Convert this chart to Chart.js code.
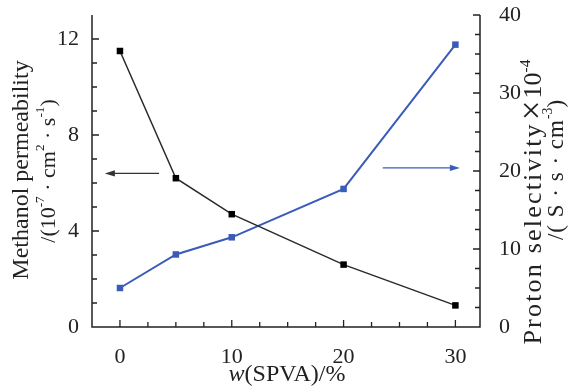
<!DOCTYPE html>
<html><head><meta charset="utf-8">
<script src="https://cdn.jsdelivr.net/npm/chart.js@4.4.0/dist/chart.umd.min.js"></script>
<style>html,body{margin:0;padding:0;background:#fff}</style>
</head><body>
<canvas id="c" width="571" height="389"></canvas>
<script>
// ---- data ----
const xValues = [0, 5, 10, 20, 30];
const permeability = [11.5, 6.2, 4.7, 2.6, 0.9];      // left axis, 10^-7 cm2 s-1
const selectivity = [5.0, 9.3, 11.5, 17.7, 36.2];     // right axis, x10^4 S s cm-3
const xTicks = [0, 10, 20, 30];
const leftTicks = [0, 4, 8, 12];
const rightTicks = [0, 10, 20, 30, 40];
// arrows [xStart, xEnd, y] in data units
const leftArrow = [3.5, -1.35, 6.4];
const rightArrow = [23.5, 30.4, 20.4];

const FONT = "'Liberation Serif', 'Times New Roman', serif";
const TXT = '#222';
const BLUE = '#3a5cb8';
const BLACK = '#2a2a2a';

function setFont(ctx, r, size) {
  const s = Math.round((r.sup ? size * 0.6 : size) * (r.scale || 1) * 10) / 10;
  ctx.font = (r.it ? 'italic ' : '') + s + 'px ' + FONT;
  ctx.letterSpacing = (r.ls || 0) + 'px';
}
function runsWidth(ctx, runs, size) {
  let w = 0;
  for (const r of runs) { setFont(ctx, r, size); w += ctx.measureText(r.t).width + (r.gap || 0) * 2; }
  return w;
}
function drawRuns(ctx, runs, size, cx, cy) {
  const w = runsWidth(ctx, runs, size);
  let x = cx - w / 2;
  ctx.textBaseline = 'middle';
  ctx.textAlign = 'left';
  for (const r of runs) {
    setFont(ctx, r, size);
    x += (r.gap || 0);
    ctx.fillText(r.t, x, r.sup ? cy - size * (r.raise || 0.38) : cy);
    x += ctx.measureText(r.t).width + (r.gap || 0);
  }
  ctx.letterSpacing = '0px';
}
function arrow(ctx, x1, x2, y, color) {
  ctx.save();
  ctx.strokeStyle = color; ctx.fillStyle = color; ctx.lineWidth = 1.3;
  const dir = Math.sign(x2 - x1);
  ctx.beginPath(); ctx.moveTo(x1, y); ctx.lineTo(x2 - dir * 8, y); ctx.stroke();
  ctx.beginPath(); ctx.moveTo(x2, y); ctx.lineTo(x2 - dir * 10, y - 3.2); ctx.lineTo(x2 - dir * 10, y + 3.2); ctx.closePath(); ctx.fill();
  ctx.restore();
}

const decor = {
  id: 'decor',
  afterDraw(chart) {
    const ctx = chart.ctx;
    const xs = chart.scales.x, yl = chart.scales.yL, yr = chart.scales.yR;
    const L = xs.left, R = xs.right, T = yl.top, B = yl.bottom;
    ctx.save();
    ctx.strokeStyle = '#222'; ctx.lineWidth = 1.5;
    ctx.beginPath();
    ctx.moveTo(L, T); ctx.lineTo(L, B); ctx.lineTo(R, B); ctx.lineTo(R, T);
    ctx.stroke();
    ctx.lineWidth = 1.3;
    ctx.beginPath();
    for (let v = 0; v <= 32; v += 2.5) {
      const p = xs.getPixelForValue(v);
      const len = (v % 10 === 0) ? 7 : 5;
      ctx.moveTo(p, B); ctx.lineTo(p, B - len);
    }
    for (let v = 1; v <= 12; v += 1) {
      const p = yl.getPixelForValue(v);
      const len = (v % 4 === 0) ? 7 : 5;
      ctx.moveTo(L, p); ctx.lineTo(L + len, p);
    }
    for (let v = 2.5; v <= 40; v += 2.5) {
      const p = yr.getPixelForValue(v);
      const len = (v % 10 === 0) ? 7 : 5;
      ctx.moveTo(R, p); ctx.lineTo(R - len, p);
    }
    ctx.stroke();

    arrow(ctx, xs.getPixelForValue(leftArrow[0]), xs.getPixelForValue(leftArrow[1]), yl.getPixelForValue(leftArrow[2]), '#333');
    arrow(ctx, xs.getPixelForValue(rightArrow[0]), xs.getPixelForValue(rightArrow[1]), yr.getPixelForValue(rightArrow[2]), BLUE);

    ctx.fillStyle = TXT;
    drawRuns(ctx, [{t: 'w', it: true}, {t: '(SPVA)/%'}], 24, 287, 375);
    ctx.save(); ctx.translate(22, 170); ctx.rotate(-Math.PI / 2);
    drawRuns(ctx, [{t: 'Methanol permeability'}], 24, 0, 0);
    ctx.restore();
    ctx.save(); ctx.translate(49, 171); ctx.rotate(-Math.PI / 2);
    drawRuns(ctx, [{t: '/(10'}, {t: '-7', sup: true}, {t: ' · cm'}, {t: '2', sup: true}, {t: ' · s'}, {t: '-1', sup: true}, {t: ')'}], 22, 0, 0);
    ctx.restore();
    ctx.save(); ctx.translate(534, 202); ctx.rotate(-Math.PI / 2);
    drawRuns(ctx, [{t: 'Proton selectivity', ls: 2.2}, {t: '×', scale: 1.35, gap: 2}, {t: '10'}, {t: '-4', sup: true, raise: 0.32}], 26, 0, 0);
    ctx.restore();
    ctx.save(); ctx.translate(557, 170); ctx.rotate(-Math.PI / 2);
    drawRuns(ctx, [{t: '/( S · s · cm', ls: 1}, {t: '-3', sup: true}, {t: ')'}], 23, 0, 0);
    ctx.restore();
    ctx.restore();
  }
};

const tickFont = {family: FONT, size: 22};
const fitY = w => s => { s.width = w; s.paddingTop = 0; s.paddingBottom = 0; };

new Chart(document.getElementById('c'), {
  type: 'line',
  data: {
    datasets: [
      {
        data: xValues.map((x, i) => ({x, y: permeability[i]})),
        yAxisID: 'yL', borderColor: BLACK, backgroundColor: '#000', borderWidth: 1.5,
        pointStyle: 'rect', pointRadius: 4.6, pointBorderWidth: 0, tension: 0
      },
      {
        data: xValues.map((x, i) => ({x, y: selectivity[i]})),
        yAxisID: 'yR', borderColor: BLUE, backgroundColor: BLUE, borderWidth: 2,
        pointStyle: 'rect', pointRadius: 4.6, pointBorderWidth: 0, tension: 0
      }
    ]
  },
  options: {
    responsive: false, animation: false,
    layout: {padding: {top: 15, left: 0, right: 0, bottom: 0}},
    plugins: {legend: {display: false}, tooltip: {enabled: false}},
    scales: {
      x: {
        type: 'linear', min: -2.5, max: 32.2,
        grid: {display: false}, border: {display: false},
        ticks: {font: tickFont, color: TXT, padding: 9},
        afterBuildTicks: s => { s.ticks = xTicks.map(v => ({value: v})); },
        afterFit: s => { s.height = 62; s.paddingLeft = 0; s.paddingRight = 0; }
      },
      yL: {
        type: 'linear', position: 'left', min: 0, max: 13,
        grid: {display: false}, border: {display: false},
        ticks: {font: tickFont, color: TXT, padding: 5},
        afterBuildTicks: s => { s.ticks = leftTicks.map(v => ({value: v})); },
        afterFit: fitY(92)
      },
      yR: {
        type: 'linear', position: 'right', min: 0, max: 40,
        grid: {display: false}, border: {display: false},
        ticks: {font: tickFont, color: TXT, padding: 11},
        afterBuildTicks: s => { s.ticks = rightTicks.map(v => ({value: v})); },
        afterFit: fitY(91)
      }
    }
  },
  plugins: [decor]
});
</script>
</body></html>
